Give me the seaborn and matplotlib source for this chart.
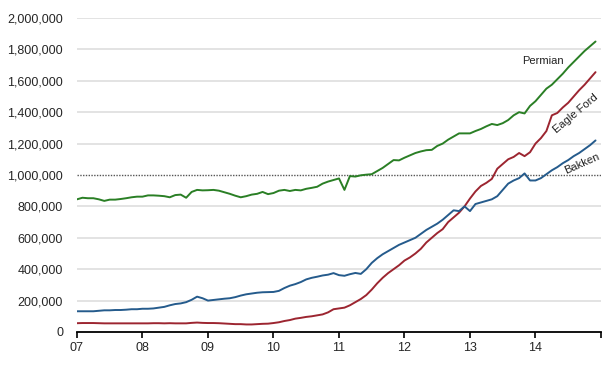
import numpy as np
import pandas as pd
import matplotlib
matplotlib.use("Agg")
import matplotlib.pyplot as plt
import seaborn as sns

# Monthly production (thousand barrels/day), Jan 2007 - Dec 2014
permian = [845, 855, 852, 852, 845, 835, 843, 843, 847, 852, 858, 862,
           862, 870, 870, 868, 865, 858, 872, 875, 855, 892, 905, 902,
           903, 905, 900, 890, 880, 868, 858, 865, 875, 880, 892, 878,
           885, 900, 905, 898, 905, 902, 912, 918, 925, 945, 958, 968,
           978, 905, 993, 990, 998, 1002, 1005, 1025, 1045, 1070, 1095, 1093,
           1110, 1125, 1140, 1150, 1158, 1160, 1185, 1200, 1225, 1245, 1265, 1265,
           1265, 1280, 1293, 1310, 1325, 1318, 1330, 1350, 1380, 1400, 1392, 1440,
           1470, 1510, 1550, 1575, 1610, 1645, 1685, 1720, 1755, 1790, 1820, 1850]
eagle_ford = [56, 57, 57, 57, 56, 55, 55, 55, 55, 55, 55, 55,
              55, 55, 56, 56, 55, 56, 55, 55, 55, 58, 60, 58,
              57, 57, 56, 54, 52, 50, 50, 48, 48, 50, 52, 53,
              57, 62, 70, 76, 85, 90, 96, 100, 106, 112, 125, 145,
              150, 155, 170, 190, 210, 235, 270, 310, 345, 375, 400, 425,
              455, 475, 500, 530, 570, 600, 630, 655, 700, 730, 760, 800,
              850, 895, 930, 950, 975, 1040, 1070, 1100, 1115, 1140, 1120, 1145,
              1200, 1235, 1280, 1380, 1395, 1430, 1460, 1500, 1540, 1575, 1615, 1655]
bakken = [132, 132, 132, 132, 135, 138, 138, 140, 140, 142, 145, 145,
          148, 148, 150, 155, 160, 170, 178, 182, 190, 205, 225, 215,
          200, 204, 208, 212, 215, 222, 232, 240, 245, 250, 253, 254,
          255, 262, 280, 295, 305, 318, 335, 345, 352, 360, 365, 375,
          362, 358, 368, 376, 370, 400, 440, 470, 495, 515, 535, 555,
          570, 585, 600, 625, 650, 670, 690, 715, 745, 775, 770, 800,
          770, 815, 825, 835, 845, 865, 905, 945, 965, 980, 1010, 965,
          965, 980, 1005, 1030, 1050, 1075, 1095, 1120, 1140, 1165, 1190, 1220]
series_names = ["Permian", "Eagle Ford", "Bakken"]
year_ticks = [2007, 2008, 2009, 2010, 2011, 2012, 2013, 2014, 2015]
year_labels = ["07", "08", "09", "10", "11", "12", "13", "14", ""]
y_ticks = [0, 200000, 400000, 600000, 800000, 1000000, 1200000,
           1400000, 1600000, 1800000, 2000000]

t = 2007 + np.arange(len(permian)) / 12.0
df = pd.concat([
    pd.DataFrame({"t": t, "v": np.array(vals) * 1000, "basin": name})
    for name, vals in zip(series_names, [permian, eagle_ford, bakken])
])

sns.set_style("white")
plt.rcParams["font.family"] = ["Liberation Sans", "DejaVu Sans"]

fig = plt.figure(figsize=(6.13, 3.67), dpi=100)
ax = fig.add_axes([0.1256, 0.0954, 0.8548, 0.8556])

for yv in y_ticks[1:]:
    if yv == 1000000:
        continue
    ax.axhline(yv, color="#e3e3e3", lw=1.4, zorder=0)
ax.axhline(1000000, color="#555555", lw=1.0, ls=(0, (1, 1)), zorder=1)

palette = {"Permian": "#2a7f25", "Eagle Ford": "#9c2530", "Bakken": "#255b8c"}
sns.lineplot(data=df, x="t", y="v", hue="basin", palette=palette,
             linewidth=1.4, legend=False, ax=ax, zorder=3)

ax.set_xlim(2007, 2015)
ax.set_ylim(0, 2000000)
ax.set_xticks(year_ticks)
ax.set_xticklabels(year_labels)
ax.set_yticks(y_ticks)
ax.set_yticklabels([f"{v:,}" for v in y_ticks])
ax.set_xlabel("")
ax.set_ylabel("")
for s in ["top", "right", "left"]:
    ax.spines[s].set_visible(False)
ax.spines["bottom"].set_color("black")
ax.spines["bottom"].set_linewidth(1.3)
ax.tick_params(axis="x", direction="out", length=4, width=1.2, color="black",
               labelsize=9, pad=3, bottom=True)
ax.tick_params(axis="y", length=0, labelsize=9, pad=10)

ax.text(2014.12, 1726000, "Permian", fontsize=8, color="#222222",
        ha="center", va="center")
ax.text(2014.62, 1388000, "Eagle Ford", fontsize=8, color="#222222",
        ha="center", va="center", rotation=40)
ax.text(2014.71, 1070000, "Bakken", fontsize=8, color="#222222",
        ha="center", va="center", rotation=24)

fig.savefig("out.png", dpi=100)
